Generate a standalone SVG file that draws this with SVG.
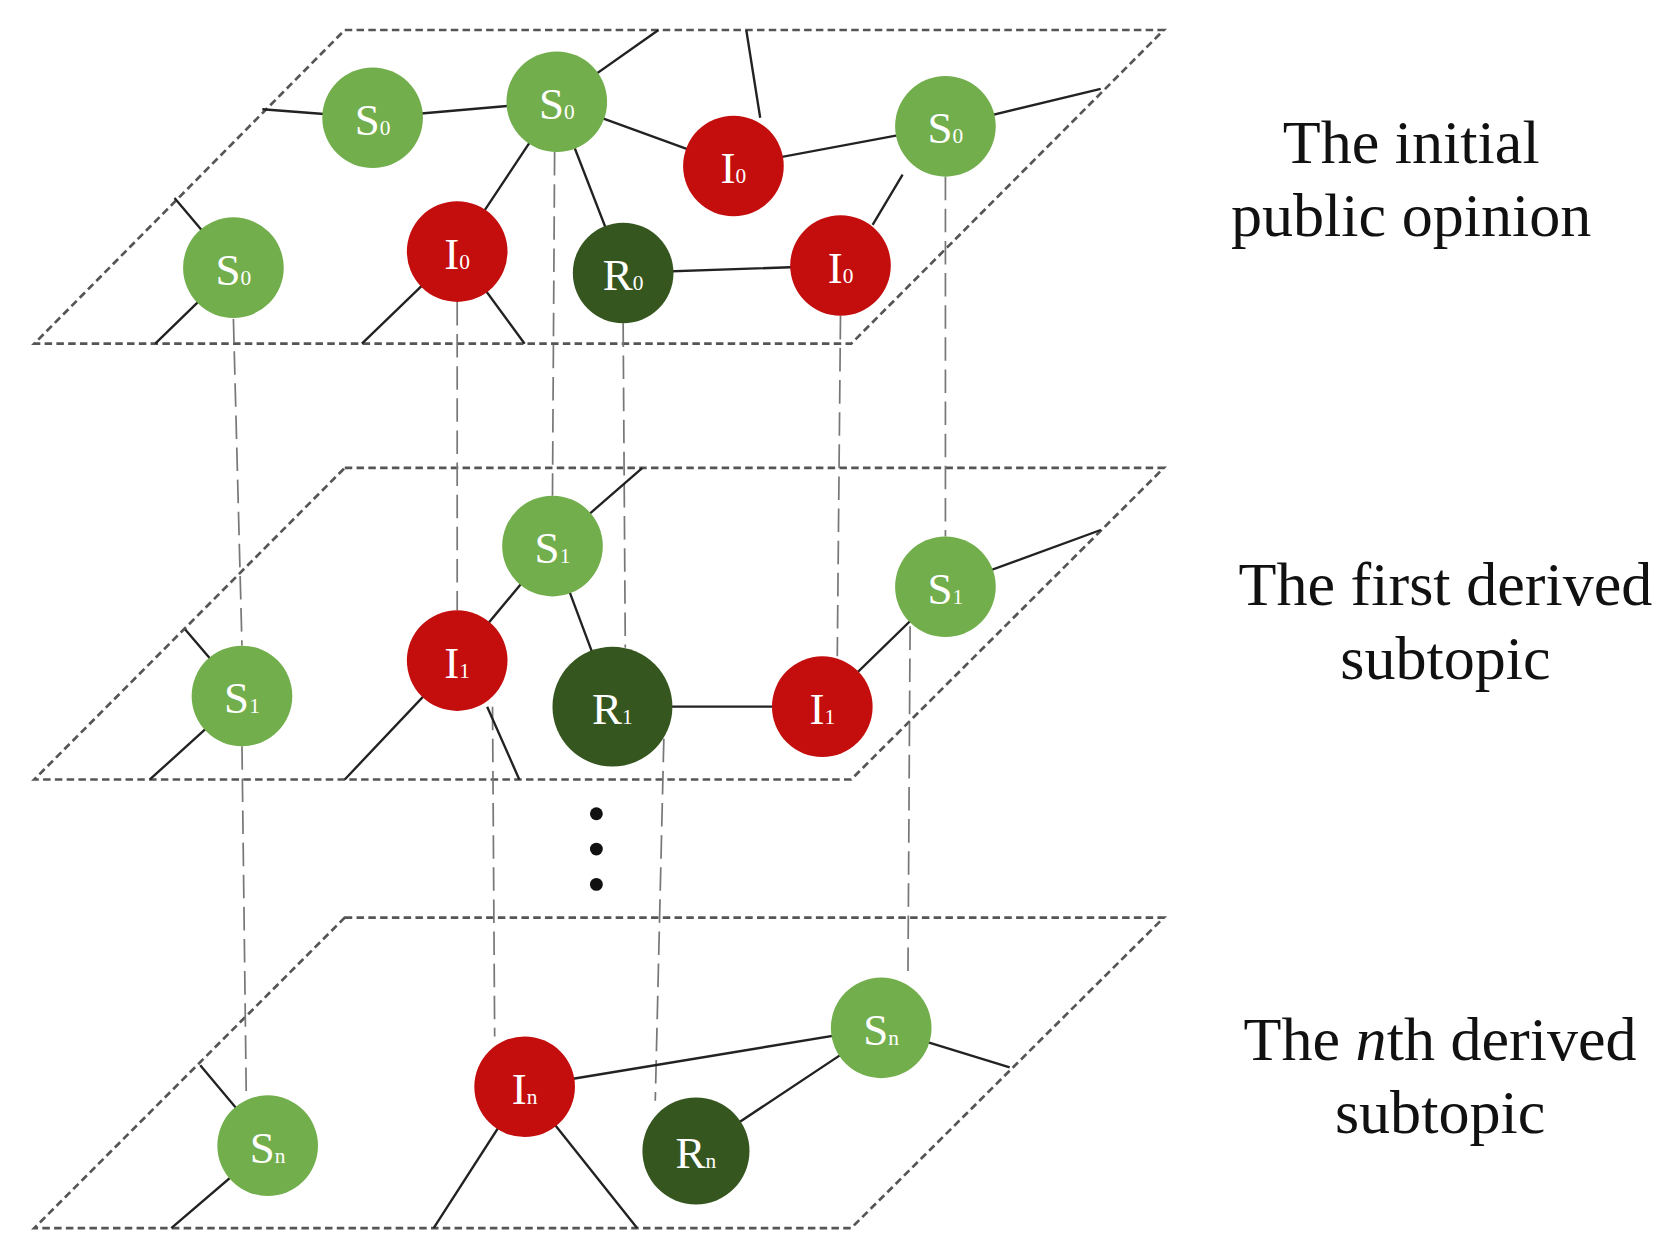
<svg xmlns="http://www.w3.org/2000/svg" width="1678" height="1258" viewBox="0 0 1678 1258">
<style>
.pl{fill:none;stroke:#555;stroke-width:2.5;stroke-dasharray:7 4}
.vd{fill:none;stroke:#777;stroke-width:1.6;stroke-dasharray:22 8}
.e{stroke:#222;stroke-width:2.2;fill:none}
.g{fill:#72ae4c}.r{fill:#c40d0d}.d{fill:#36561f}
.lb{font-family:"Liberation Serif",serif;font-size:42px;fill:#fff;text-anchor:middle}
.sb{font-size:20px}
.t{font-family:"Liberation Serif",serif;font-size:58px;fill:#111;text-anchor:middle}
</style>
<rect width="1678" height="1258" fill="#fff"/>
<g transform="scale(1.0707)">
<g id="planes">
<polygon class="pl" points="322,28 1087,28 795,321 32,321"/>
<polygon class="pl" points="322,437 1087,437 795,728 32,728"/>
<polygon class="pl" points="322,857 1087,857 795,1147 32,1147"/>
</g>
<g id="connectors">
<path class="vd" d="M218,298 L226,603 M427,282 L427,570 M518,142 L516,463 M582,302 L584,605 M785,295 L782,613 M883,165 L883,501"/>
<path class="vd" d="M226,697 L230,1023 M460,660 L462,968 M620,690 L612,1028 M850,585 L848,913"/>
<path class="e" d="M245,102 L348,110 L520,95 L615,28 M520,95 L685,155 M697,28 L710,110 M685,155 L883,118 L1028,83 M843,163 L815,210 M520,95 L427,235 M520,95 L582,255 L785,248 M163,185 L218,250 L145,321 M427,235 L338,321 M427,235 L490,321"/>
<path class="e" d="M600,437 L516,510 L427,617 M516,510 L572,660 L768,660 L883,548 L1028,495 M173,588 L226,650 L140,728 M427,617 L322,728 M455,660 L485,728"/>
<path class="e" d="M490,1015 L823,960 L650,1075 M823,960 L943,997 M187,995 L250,1070 L160,1147 M490,1015 L405,1147 M490,1015 L595,1147"/>
</g>
<g id="dots" fill="#111"><circle cx="557" cy="760" r="6"/><circle cx="557" cy="793" r="6"/><circle cx="557" cy="826" r="6"/></g>
<g id="n1"><circle class="g" cx="348" cy="110" r="47"/><text class="lb" x="348" y="126">S<tspan class="sb">0</tspan></text></g>
<g id="n2"><circle class="g" cx="520" cy="95" r="47"/><text class="lb" x="520" y="111">S<tspan class="sb">0</tspan></text></g>
<g id="n3"><circle class="r" cx="685" cy="155" r="47"/><text class="lb" x="685" y="171">I<tspan class="sb">0</tspan></text></g>
<g id="n4"><circle class="g" cx="883" cy="118" r="47"/><text class="lb" x="883" y="134">S<tspan class="sb">0</tspan></text></g>
<g id="n5"><circle class="g" cx="218" cy="250" r="47"/><text class="lb" x="218" y="266">S<tspan class="sb">0</tspan></text></g>
<g id="n6"><circle class="r" cx="427" cy="235" r="47"/><text class="lb" x="427" y="251">I<tspan class="sb">0</tspan></text></g>
<g id="n7"><circle class="d" cx="582" cy="255" r="47"/><text class="lb" x="582" y="271">R<tspan class="sb">0</tspan></text></g>
<g id="n8"><circle class="r" cx="785" cy="248" r="47"/><text class="lb" x="785" y="264">I<tspan class="sb">0</tspan></text></g>
<g id="m1"><circle class="g" cx="516" cy="510" r="47"/><text class="lb" x="516" y="526">S<tspan class="sb">1</tspan></text></g>
<g id="m2"><circle class="g" cx="883" cy="548" r="47"/><text class="lb" x="883" y="564">S<tspan class="sb">1</tspan></text></g>
<g id="m3"><circle class="r" cx="427" cy="617" r="47"/><text class="lb" x="427" y="633">I<tspan class="sb">1</tspan></text></g>
<g id="m4"><circle class="d" cx="572" cy="660" r="56"/><text class="lb" x="572" y="676">R<tspan class="sb">1</tspan></text></g>
<g id="m5"><circle class="r" cx="768" cy="660" r="47"/><text class="lb" x="768" y="676">I<tspan class="sb">1</tspan></text></g>
<g id="m6"><circle class="g" cx="226" cy="650" r="47"/><text class="lb" x="226" y="666">S<tspan class="sb">1</tspan></text></g>
<g id="k1"><circle class="g" cx="823" cy="960" r="47"/><text class="lb" x="823" y="976">S<tspan class="sb">n</tspan></text></g>
<g id="k2"><circle class="r" cx="490" cy="1015" r="47"/><text class="lb" x="490" y="1031">I<tspan class="sb">n</tspan></text></g>
<g id="k3"><circle class="d" cx="650" cy="1075" r="50"/><text class="lb" x="650" y="1091">R<tspan class="sb">n</tspan></text></g>
<g id="k4"><circle class="g" cx="250" cy="1070" r="47"/><text class="lb" x="250" y="1086">S<tspan class="sb">n</tspan></text></g>
<g id="labels">
<text class="t" x="1318" y="152">The initial</text>
<text class="t" x="1318" y="220">public opinion</text>
<text class="t" x="1350" y="565">The first derived</text>
<text class="t" x="1350" y="634">subtopic</text>
<text class="t" x="1345" y="990">The <tspan font-style="italic">n</tspan>th derived</text>
<text class="t" x="1345" y="1058">subtopic</text>
</g>
</g>
</svg>
